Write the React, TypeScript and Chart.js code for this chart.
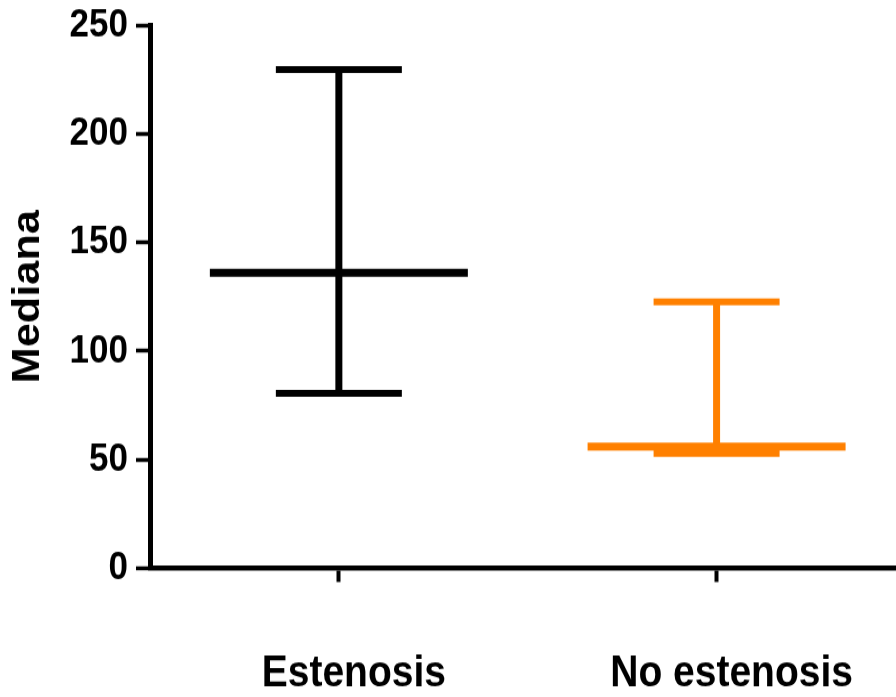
import React, { useEffect, useRef } from "react";
import { Chart, registerables } from "chart.js";

Chart.register(...registerables);

const categories = ["Estenosis", "No estenosis"];
const medians = [136, 56];
const lows = [80.6, 52.9];
const highs = [229.6, 122.7];
const colors = ["#000000", "#FF8000"];
const yTicks = [0, 50, 100, 150, 200, 250];

const STRETCH = 1.14;
const W = 896;
const H = Math.round(697 / STRETCH);
const FONT = "'Liberation Sans', Arial, Helvetica, sans-serif";

export default function App() {
  const ref = useRef<HTMLCanvasElement | null>(null);

  useEffect(() => {
    document.body.style.margin = "0";
    const ctx = ref.current!.getContext("2d")!;
    const datasets: any[] = [];
    categories.forEach((_, i) => {
      datasets.push({
        type: "scatter",
        label: "median" + i,
        data: [{ x: i, y: medians[i] }],
        pointStyle: "line",
        pointRadius: 129,
        pointBorderWidth: 7,
        pointBorderColor: colors[i],
        pointBackgroundColor: colors[i],
        borderColor: colors[i],
        clip: false,
        order: 0,
      });
      datasets.push({
        type: "scatter",
        label: "caps" + i,
        data: [
          { x: i, y: lows[i] },
          { x: i, y: highs[i] },
        ],
        pointStyle: "line",
        pointRadius: 63,
        pointBorderWidth: 6,
        pointBorderColor: colors[i],
        borderColor: colors[i],
        clip: false,
        order: 1,
      });
      datasets.push({
        type: "line",
        label: "whisker" + i,
        data: [
          { x: i, y: lows[i] },
          { x: i, y: highs[i] },
        ],
        showLine: true,
        borderColor: colors[i],
        borderWidth: 7,
        pointRadius: 0,
        clip: false,
        order: 2,
      });
    });

    const chart = new Chart(ctx, {
      type: "scatter",
      data: { datasets },
      options: {
        animation: false,
        responsive: false,
        devicePixelRatio: 1,
        layout: { autoPadding: false, padding: { top: 22, left: 0, right: 0, bottom: 0 } },
        plugins: {
          legend: { display: false },
          tooltip: { enabled: false },
        },
        scales: {
          x: {
            type: "linear",
            min: -0.5,
            max: 1.475,
            afterBuildTicks: (s: any) => {
              s.ticks = categories.map((_, i) => ({ value: i }));
            },
            afterFit: (s: any) => {
              s.height = H - 498.5;
            },
            ticks: {
              callback: (v: any) => categories[v as number] ?? "",
              color: "#000",
              font: { family: FONT, size: 39, weight: "bold" },
              padding: 57,
              labelOffset: 15,
              maxRotation: 0,
              autoSkip: false,
            },
            grid: {
              drawOnChartArea: false,
              drawTicks: true,
              tickLength: 12,
              tickWidth: 4,
              tickColor: "#000",
            },
            border: { display: true, color: "#000", width: 4.5 },
          },
          y: {
            type: "linear",
            min: 0,
            max: 250,
            afterBuildTicks: (s: any) => {
              s.ticks = yTicks.map((v) => ({ value: v }));
            },
            afterFit: (s: any) => {
              s.width = 150;
            },
            ticks: {
              color: "#000",
              font: { family: FONT, size: 35, weight: "bold", lineHeight: 0.75 },
              padding: 8,
            },
            grid: {
              drawOnChartArea: false,
              drawTicks: true,
              tickLength: 14,
              tickWidth: 3.5,
              tickColor: "#000",
            },
            border: { display: true, color: "#000", width: 5 },
            title: {
              display: true,
              text: "Mediana",
              color: "#000",
              font: { family: FONT, size: 38, weight: "bold" },
              padding: { top: 6, bottom: 0 },
            },
          },
        },
      },
    });
    return () => chart.destroy();
  }, []);

  return (
    <div style={{ width: W, height: 697, overflow: "hidden", background: "#fff" }}>
      <div
        style={{
          width: W,
          height: H,
          transform: `scaleY(${STRETCH})`,
          transformOrigin: "0 0",
        }}
      >
        <canvas ref={ref} width={W} height={H} style={{ display: "block" }} />
      </div>
    </div>
  );
}
